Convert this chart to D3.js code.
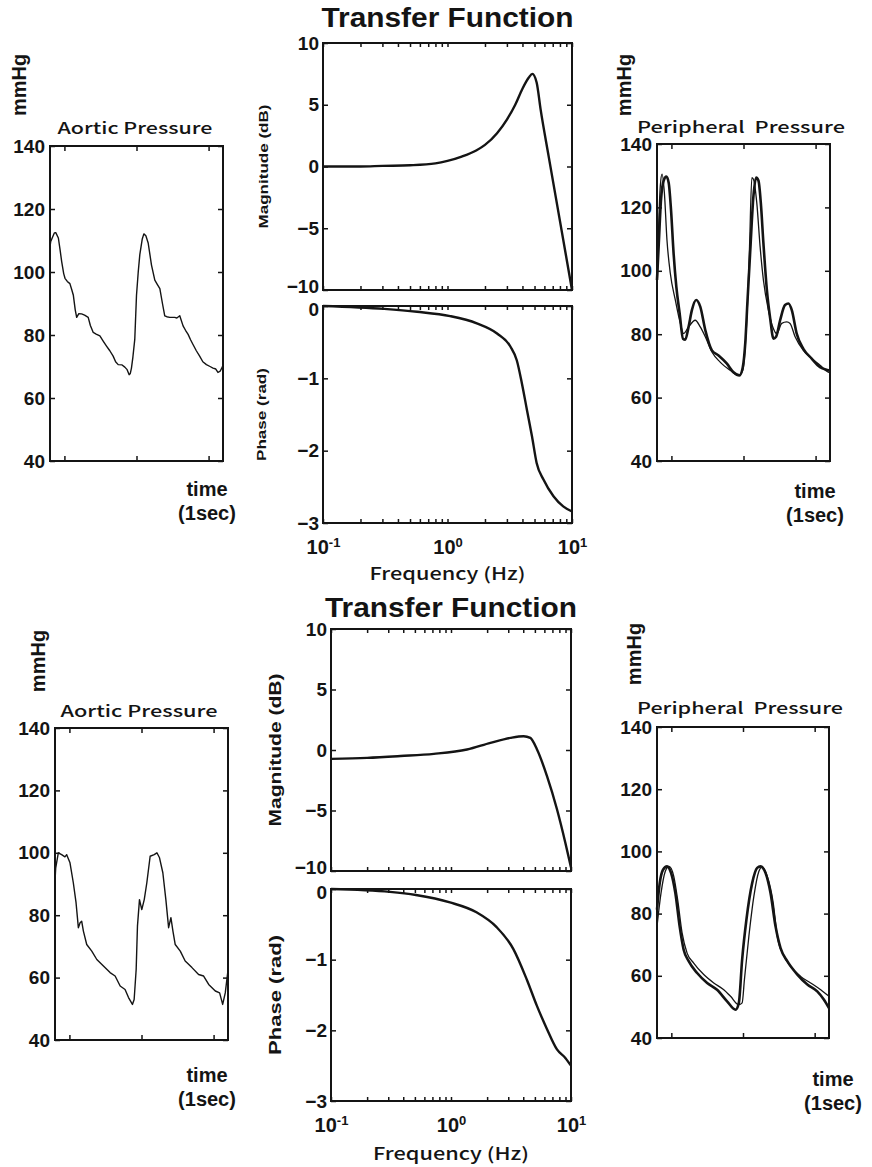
<!DOCTYPE html>
<html>
<head>
<meta charset="utf-8">
<title>Transfer Function</title>
<style>
  body { margin: 0; background: #fff; }
</style>
</head>
<body>
<svg id="fig" width="872" height="1167"></svg>
<script src="https://cdn.jsdelivr.net/npm/d3@7/dist/d3.min.js"></script>
<script>
// ---- data ----
const timeTicks = [0.1, 0.6, 1.1];
const pressureTicks = [40, 60, 80, 100, 120, 140];
const magTicks = [-10, -5, 0, 5, 10];
const phaseTicks = [-3, -2, -1, 0];
const decades = [0.1, 1, 10];
const freqTicks = [0.1, 0.2, 0.3, 0.4, 0.5, 0.6, 0.7, 0.8, 0.9, 1, 2, 3, 4, 5, 6, 7, 8, 9, 10];

// top row: [time (s), mmHg]
const aorticTop = [[0, 108], [0.005, 109.7], [0.03, 112.4], [0.04, 112.5], [0.058, 110.8], [0.07, 107], [0.081, 103.3],
  [0.095, 99.5], [0.104, 98], [0.12, 97], [0.138, 96.3], [0.15, 94.5], [0.162, 92.6], [0.175, 88], [0.185, 85.6],
  [0.2, 86.8], [0.219, 86.7], [0.24, 86.3], [0.265, 85.6], [0.28, 83], [0.3, 80.8], [0.32, 80.3], [0.346, 79.7],
  [0.37, 78], [0.392, 76.5], [0.415, 75], [0.438, 73.3], [0.455, 71.5], [0.473, 70.6], [0.5, 70.5], [0.519, 69.8],
  [0.535, 69], [0.549, 67.4], [0.557, 67.8], [0.565, 69.5], [0.575, 73], [0.588, 78.6], [0.6, 92.6], [0.612, 100],
  [0.623, 105.5], [0.64, 110.5], [0.651, 112.1], [0.665, 111.5], [0.681, 109.2], [0.704, 102.2], [0.727, 97.4],
  [0.745, 96], [0.762, 94.7], [0.78, 90], [0.796, 86.1], [0.81, 85.8], [0.831, 85.6], [0.865, 85.6], [0.88, 85.4],
  [0.9, 86.1], [0.923, 82.9], [0.94, 81.5], [0.958, 80.2], [0.975, 78.5], [0.992, 77], [1.015, 75], [1.038, 73.3],
  [1.06, 71.5], [1.085, 70.6], [1.11, 70], [1.131, 69.5], [1.15, 69.2], [1.165, 68.1], [1.18, 68.5], [1.195, 69.8], [1.2, 70.5]];

const periphTopThick = [[0, 97.1], [0.0115, 107.7], [0.028, 122.5], [0.046, 128.4], [0.065, 129.7], [0.081, 127.8],
  [0.097, 119.4], [0.115, 105.6], [0.134, 95], [0.157, 86.6], [0.18, 78.6], [0.196, 78.3], [0.219, 82.3], [0.242, 87.6],
  [0.272, 90.8], [0.3, 88.7], [0.335, 81.3], [0.381, 74.9], [0.427, 73.3], [0.485, 70.7], [0.531, 68], [0.572, 67],
  [0.595, 69.6], [0.612, 77], [0.628, 90.8], [0.646, 105.6], [0.669, 123.6], [0.688, 129.4], [0.704, 128.4],
  [0.72, 121.5], [0.738, 108.8], [0.762, 94], [0.785, 85], [0.808, 78.6], [0.826, 79.2], [0.854, 84.4], [0.888, 89.2],
  [0.912, 89.7], [0.935, 87.6], [0.969, 80.2], [1.015, 75.4], [1.073, 72.3], [1.131, 69.6], [1.188, 68.6], [1.2, 68.4]];

const periphTopThin = [[0, 92.9], [0.0115, 114], [0.023, 126.8], [0.035, 130.5], [0.051, 124.7], [0.069, 109.8],
  [0.092, 99.3], [0.127, 90.8], [0.162, 83.4], [0.185, 80.2], [0.219, 82.3], [0.265, 84.4], [0.3, 82.3], [0.335, 79.2],
  [0.381, 74.4], [0.438, 71.2], [0.508, 68.6], [0.565, 67], [0.595, 68.6], [0.612, 76], [0.628, 89.7], [0.642, 107.7],
  [0.658, 129.4], [0.669, 128.9], [0.692, 121.5], [0.715, 107.7], [0.738, 97.1], [0.773, 87.6], [0.803, 82.3],
  [0.831, 80.2], [0.865, 83.4], [0.9, 83.9], [0.923, 83.4], [0.958, 79.2], [1.015, 74.9], [1.073, 72.3], [1.131, 70.2],
  [1.188, 68], [1.2, 67.8]];

// [Hz, dB] and [Hz, rad]
const magTop = [[0.1, 0], [0.2, 0], [0.3, 0.05], [0.5, 0.1], [0.8, 0.25], [1, 0.45], [1.3, 0.8], [1.7, 1.3], [2, 1.75],
  [2.5, 2.7], [3, 3.8], [3.5, 5], [4, 6.3], [4.5, 7.2], [4.8, 7.5], [5.2, 6.8], [5.6, 4.6], [6.5, 0.8], [8, -4.4], [10, -10]];
const phaseTop = [[0.1, 0], [0.31, -0.04], [0.57, -0.08], [1.05, -0.14], [1.72, -0.24], [2.5, -0.38], [3.2, -0.56],
  [3.6, -0.75], [3.96, -1.07], [4.35, -1.44], [4.77, -1.8], [5.2, -2.17], [5.9, -2.4], [7.1, -2.63], [8.5, -2.77], [10, -2.84]];

// bottom row
const aorticBottom = [[0, 91], [0.005, 95.2], [0.023, 100], [0.046, 99.4], [0.069, 98.7], [0.081, 99.4], [0.104, 96.8],
  [0.127, 90.4], [0.146, 84], [0.162, 76], [0.174, 77.6], [0.185, 78.1], [0.197, 74.9], [0.22, 70.6], [0.255, 68.5],
  [0.29, 65.8], [0.336, 63.7], [0.382, 61.6], [0.417, 60.5], [0.452, 57.3], [0.486, 56.2], [0.51, 53.6], [0.537, 51.4],
  [0.549, 53], [0.563, 62.6], [0.572, 76.5], [0.586, 85], [0.602, 81.8], [0.619, 85], [0.637, 90.4], [0.66, 98.9],
  [0.688, 99.4], [0.707, 100], [0.725, 98.4], [0.748, 93.6], [0.769, 85], [0.788, 76], [0.804, 79.2], [0.818, 74.9],
  [0.834, 70.6], [0.869, 68.5], [0.903, 65.3], [0.95, 63.2], [0.996, 61], [1.031, 60.5], [1.066, 57.8], [1.112, 55.7],
  [1.142, 55.1], [1.163, 51.4], [1.181, 55.1], [1.198, 61.6]];

const periphBottomThick = [[0, 81.3], [0.019, 89.8], [0.042, 94.1], [0.07, 95.2], [0.098, 93.1], [0.128, 86.6],
  [0.158, 75.9], [0.186, 68.4], [0.221, 64.7], [0.28, 60.9], [0.35, 57.7], [0.419, 55.5], [0.489, 51.8], [0.548, 49.1],
  [0.571, 51.3], [0.594, 65.2], [0.624, 78.1], [0.664, 89.8], [0.699, 94.7], [0.722, 95.2], [0.757, 93.1], [0.792, 86.6],
  [0.827, 75.9], [0.862, 68.9], [0.909, 64.7], [0.979, 60.4], [1.049, 57.2], [1.118, 55], [1.165, 52.3], [1.2, 49.6]];

const periphBottomThin = [[0, 75.9], [0.028, 86.6], [0.058, 93.6], [0.084, 95.2], [0.117, 92], [0.144, 84.5],
  [0.175, 73.8], [0.21, 67.3], [0.256, 64.1], [0.326, 60.4], [0.396, 57.7], [0.466, 55.5], [0.513, 53.4], [0.571, 50.7],
  [0.594, 51.3], [0.61, 58.8], [0.641, 72.7], [0.676, 85.6], [0.711, 93.6], [0.734, 95], [0.769, 92], [0.811, 83.4],
  [0.839, 72.7], [0.881, 66.8], [0.932, 63], [1.002, 59.8], [1.072, 57.7], [1.142, 55.5], [1.2, 53.4]];

const magBottom = [[0.1, -0.73], [0.2, -0.65], [0.38, -0.5], [0.72, -0.32], [1.36, 0.04], [2.13, 0.59], [3.12, 1.0],
  [4.03, 1.14], [4.58, 1.0], [5.21, 0.04], [6.31, -2.16], [7.64, -4.9], [8.97, -7.66], [10, -9.7]];
const phaseBottom = [[0.1, 0], [0.31, -0.04], [0.51, -0.085], [0.98, -0.19], [1.63, -0.33], [2.4, -0.54], [3.31, -0.85],
  [4.28, -1.28], [5.19, -1.65], [6.3, -1.98], [7.64, -2.27], [8.97, -2.39], [10, -2.5]];

// ---- drawing ----
const svg = d3.select("#fig");
const FONT = "'Liberation Sans', Arial, sans-serif";
const GOTHIC = "'Noto Sans CJK JP', 'Noto Sans', sans-serif";
const INK = "#141414";
const intFmt = d3.format("d");

function styleAxis(g, size) {
  g.select(".domain").remove();
  g.selectAll("line").attr("stroke", INK).attr("stroke-width", 1.5);
  g.selectAll("text")
    .attr("font-family", FONT)
    .attr("font-weight", "bold")
    .attr("font-size", size)
    .attr("fill", INK);
}

function frame(g, x, y) {
  const [a, b] = x.range(), [c, d] = y.range();
  g.append("rect")
    .attr("x", a).attr("y", d)
    .attr("width", b - a).attr("height", c - d)
    .attr("fill", "none")
    .attr("stroke", INK)
    .attr("stroke-width", 2);
}

function label(txt, x, y, size, opts = {}) {
  const t = svg.append("text")
    .attr("x", x).attr("y", y)
    .attr("text-anchor", "middle")
    .attr("font-family", opts.family || FONT)
    .attr("font-weight", opts.weight || "bold")
    .attr("font-size", size)
    .attr("fill", INK)
    .text(txt);
  if (opts.rotate) t.attr("transform", `rotate(-90,${x},${y})`);
  if (opts.len) t.attr("textLength", opts.len).attr("lengthAdjust", "spacingAndGlyphs");
  return t;
}

function pressurePanel(box, series, title) {
  const x = d3.scaleLinear().domain([0, 1.2]).range([box.x0, box.x1]);
  const y = d3.scaleLinear().domain([40, 140]).range([box.y1, box.y0]);
  const g = svg.append("g");

  g.append("g").attr("transform", `translate(${box.x0},0)`)
    .call(d3.axisLeft(y).tickValues(pressureTicks).tickSize(-5).tickPadding(5))
    .call(a => styleAxis(a, 19));
  g.append("g").attr("transform", `translate(${box.x1},0)`)
    .call(d3.axisRight(y).tickValues(pressureTicks).tickSize(-5).tickFormat(""))
    .call(a => styleAxis(a, 19));
  g.append("g").attr("transform", `translate(0,${box.y1})`)
    .call(d3.axisBottom(x).tickValues(timeTicks).tickSize(-5).tickFormat(""))
    .call(a => styleAxis(a, 19));
  g.append("g").attr("transform", `translate(0,${box.y0})`)
    .call(d3.axisTop(x).tickValues(timeTicks).tickSize(-5).tickFormat(""))
    .call(a => styleAxis(a, 19));

  series.forEach(s => {
    g.append("path")
      .datum(s.data)
      .attr("fill", "none")
      .attr("stroke", INK)
      .attr("stroke-width", s.width)
      .attr("stroke-linejoin", "round")
      .attr("d", d3.line().x(d => x(d[0])).y(d => y(d[1])).curve(s.curve || d3.curveLinear));
  });
  frame(g, x, y);

  label(title.text, title.x, title.y, 16, { weight: 500, family: GOTHIC, len: title.len });
  label("mmHg", box.unitX, box.unitY, 20, { rotate: true });
  label("time", box.timeX, box.timeY, 20);
  label("(1sec)", box.timeX, box.timeY + 24, 20);
}

function bodePanel(mb, pb, mag, phase, fs) {
  const x = d3.scaleLog().domain([0.1, 10]).range([mb.x0, mb.x1]);
  const ym = d3.scaleLinear().domain([-10, 10]).range([mb.y1, mb.y0]);
  const yp = d3.scaleLinear().domain([-3, 0]).range([pb.y1, pb.y0]);
  const g = svg.append("g");

  [[ym, mb, magTicks], [yp, pb, phaseTicks]].forEach(([y, b, ticks]) => {
    g.append("g").attr("transform", `translate(${b.x0},0)`)
      .call(d3.axisLeft(y).tickValues(ticks).tickSize(-5).tickPadding(4).tickFormat(intFmt))
      .call(a => styleAxis(a, 19))
      // the -10 and 0 labels of the stacked plots nearly touch: nudge them apart a little
      .call(a => a.selectAll(".tick text")
        .filter(d => (y === ym && d === -10) || (y === yp && d === 0))
        .attr("dy", y === ym ? "0.12em" : "0.52em"));
    g.append("g").attr("transform", `translate(${b.x1},0)`)
      .call(d3.axisRight(y).tickValues(ticks).tickSize(-5).tickFormat(""))
      .call(a => styleAxis(a, 19));
    g.append("g").attr("transform", `translate(0,${b.y0})`)
      .call(d3.axisTop(x).tickValues(freqTicks).tickSize(-4).tickFormat(""))
      .call(a => styleAxis(a, 19));
  });
  g.append("g").attr("transform", `translate(0,${mb.y1})`)
    .call(d3.axisBottom(x).tickValues(freqTicks).tickSize(-4).tickFormat(""))
    .call(a => styleAxis(a, 19));

  // decade labels 10^-1, 10^0, 10^1 under the phase plot
  const xb = g.append("g").attr("transform", `translate(0,${pb.y1})`)
    .call(d3.axisBottom(x).tickValues(freqTicks).tickSize(-4).tickPadding(17)
      .tickFormat(d => decades.includes(d) ? "10" : ""))
    .call(a => styleAxis(a, 20));
  xb.selectAll(".tick text")
    .filter(d => decades.includes(d))
    .append("tspan")
    .attr("dy", "-0.55em")
    .attr("font-size", 13)
    .text(d => String(Math.round(Math.log10(d))));

  const line = y => d3.line().x(d => x(d[0])).y(d => y(d[1])).curve(d3.curveMonotoneX);
  g.append("path").datum(mag)
    .attr("fill", "none").attr("stroke", INK).attr("stroke-width", 2.4)
    .attr("d", line(ym));
  g.append("path").datum(phase)
    .attr("fill", "none").attr("stroke", INK).attr("stroke-width", 2.4)
    .attr("d", line(yp));

  frame(g, x, ym);
  frame(g, x.copy().range([pb.x0, pb.x1]), yp);

  const cx = (mb.x0 + mb.x1) / 2;
  label("Transfer Function", cx, mb.titleY, 27, { len: 252 });
  label("Magnitude (dB)", mb.labX, (mb.y0 + mb.y1) / 2, fs, { rotate: true, len: mb.labLen });
  label("Phase (rad)", pb.labX, (pb.y0 + pb.y1) / 2, fs, { rotate: true, len: pb.labLen });
  label("Frequency (Hz)", cx, pb.y1 + pb.freqDy, 17, { weight: 500, family: GOTHIC, len: 156 });
}

// ---- top row ----
pressurePanel({ x0: 50, x1: 223, y0: 146, y1: 461, unitX: 26, unitY: 85, timeX: 207, timeY: 496 },
  [{ data: aorticTop, width: 1.4 }],
  { text: "Aortic Pressure", x: 135, y: 134, len: 155 });

bodePanel({ x0: 323, x1: 572, y0: 43, y1: 290, titleY: 27, labX: 268, labLen: 124 },
  { x0: 323, x1: 572, y0: 306, y1: 523, labX: 266, labLen: 93, freqDy: 57 },
  magTop, phaseTop, 13);

pressurePanel({ x0: 657, x1: 830, y0: 144, y1: 461, unitX: 631, unitY: 85, timeX: 815, timeY: 498 },
  [{ data: periphTopThin, width: 1.3, curve: d3.curveMonotoneX }, { data: periphTopThick, width: 2.6, curve: d3.curveMonotoneX }],
  { text: "Peripheral\u00a0\u00a0Pressure", x: 741, y: 133, len: 208 });

// ---- bottom row ----
pressurePanel({ x0: 55, x1: 228, y0: 728, y1: 1040, unitX: 45, unitY: 661, timeX: 207, timeY: 1082 },
  [{ data: aorticBottom, width: 1.4 }],
  { text: "Aortic Pressure", x: 139, y: 717, len: 157 });

bodePanel({ x0: 331, x1: 571, y0: 629, y1: 871, titleY: 617, labX: 281, labLen: 153 },
  { x0: 331, x1: 571, y0: 889, y1: 1101, labX: 281, labLen: 120, freqDy: 59 },
  magBottom, phaseBottom, 16);

pressurePanel({ x0: 657, x1: 829, y0: 727, y1: 1038, unitX: 641, unitY: 654, timeX: 833, timeY: 1086 },
  [{ data: periphBottomThin, width: 1.3, curve: d3.curveMonotoneX }, { data: periphBottomThick, width: 2.6, curve: d3.curveMonotoneX }],
  { text: "Peripheral\u00a0\u00a0Pressure", x: 740, y: 714, len: 206 });
</script>
</body>
</html>
